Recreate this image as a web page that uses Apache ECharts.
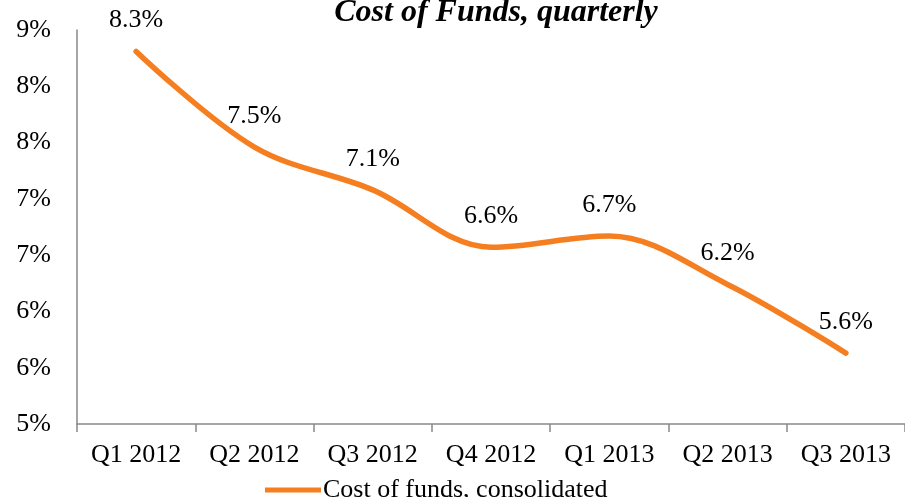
<!DOCTYPE html>
<html>
<head>
<meta charset="utf-8">
<script src="https://cdn.jsdelivr.net/npm/echarts@6/dist/echarts.min.js"></script>
<style>
  html, body { margin: 0; padding: 0; background: #fff; }
  #chart { width: 905px; height: 497px; }
</style>
</head>
<body>
<div id="chart"></div>
<script>
  const categories = ['Q1 2012', 'Q2 2012', 'Q3 2012', 'Q4 2012', 'Q1 2013', 'Q2 2013', 'Q3 2013'];
  const costOfFunds = [8.31, 7.46, 7.08, 6.57, 6.67, 6.24, 5.63];

  const myChart = echarts.init(document.getElementById('chart'));
  const font = 'Liberation Serif';
  const orange = '#F57F20';

  const option = {
    animation: false,
    title: {
      text: 'Cost of Funds, quarterly',
      left: 491,
      textAlign: 'center',
      top: -8,
      textStyle: {
        fontFamily: font,
        fontSize: 32,
        fontWeight: 'bold',
        fontStyle: 'italic',
        color: '#000'
      }
    },
    legend: {
      data: ['Cost of funds, consolidated'],
      left: 260,
      top: 472,
      itemWidth: 56,
      itemHeight: 5,
      itemGap: 0,
      icon: 'rect',
      itemStyle: { color: orange, opacity: 1 },
      textStyle: { fontFamily: font, fontSize: 26, color: '#000', padding: [0, 0, 0, -3] }
    },
    grid: {
      left: 77,
      right: -9,
      top: 30,
      bottom: 73
    },
    xAxis: {
      type: 'category',
      data: categories,
      boundaryGap: true,
      axisLine: { lineStyle: { color: '#898989', width: 1.5 } },
      axisTick: { show: true, length: 8, lineStyle: { color: '#898989', width: 1.5 } },
      axisLabel: { fontFamily: font, fontSize: 26, color: '#000', margin: 18 }
    },
    yAxis: {
      type: 'value',
      min: 5,
      max: 8.5,
      interval: 0.5,
      axisLine: { show: true, lineStyle: { color: '#898989', width: 1.5 } },
      axisTick: { show: false },
      splitLine: { show: false },
      axisLabel: {
        fontFamily: font,
        fontSize: 26,
        color: '#000',
        margin: 26,
        formatter: v => Math.round(v) + '%'
      }
    },
    series: [
      {
        name: 'Cost of funds, consolidated',
        type: 'line',
        data: costOfFunds,
        smooth: 0.35,
        symbol: 'circle',
        symbolSize: 0.1,
        showSymbol: true,
        lineStyle: { color: orange, width: 5.5, cap: 'round' },
        itemStyle: { color: orange },
        label: {
          show: true,
          position: 'top',
          distance: 18,
          fontFamily: font,
          fontSize: 26,
          color: '#000',
          formatter: p => p.value.toFixed(1) + '%'
        }
      }
    ]
  };

  myChart.setOption(option);
</script>
</body>
</html>
